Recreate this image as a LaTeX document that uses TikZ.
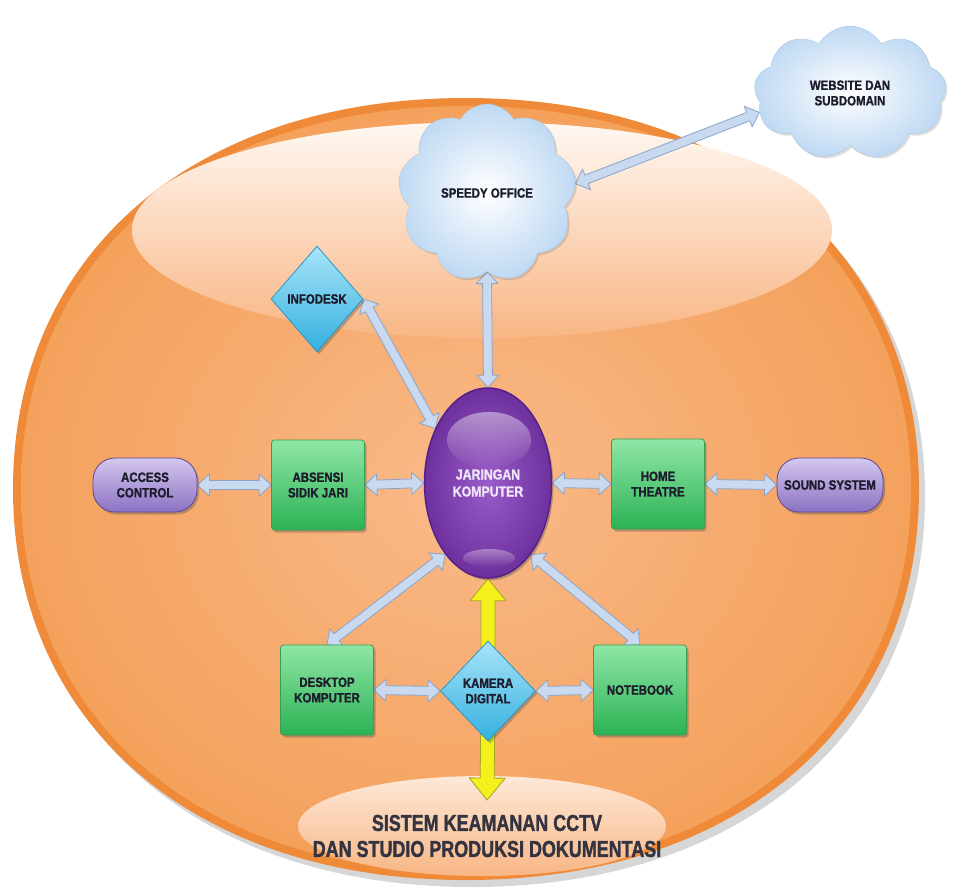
\documentclass[tikz,border=0pt]{standalone}
\usepackage{fontspec}
\setmainfont{Liberation Sans}
\newfontfamily\labfont[FakeStretch=0.85,FakeBold=1.2]{Liberation Sans Bold}
\newfontfamily\capfont[FakeStretch=0.78,FakeBold=1.4]{Liberation Sans Bold}
\usetikzlibrary{shapes.geometric,shapes.symbols,shadows,calc,fadings}
\definecolor{grTop}{HTML}{8FE6A6}
\definecolor{grBot}{HTML}{2CB255}
\definecolor{grLine}{HTML}{3A9E4F}
\definecolor{puTop}{HTML}{D4C8EE}
\definecolor{puBot}{HTML}{8B72C3}
\definecolor{puLine}{HTML}{5E4592}
\definecolor{blTop}{HTML}{A8E4F8}
\definecolor{blBot}{HTML}{34B0E0}
\definecolor{blLine}{HTML}{2A98C6}
\definecolor{clBlue}{HTML}{BFD9F3}
\definecolor{clLine}{HTML}{B0CAE6}
\definecolor{arFill}{HTML}{C9DAF0}
\definecolor{arLine}{HTML}{8AA4C8}
\definecolor{yeFill}{HTML}{F3F01C}
\definecolor{yeLine}{HTML}{A8A227}
\definecolor{juIn}{HTML}{9A5CC8}
\definecolor{juOut}{HTML}{6E309C}
\definecolor{juLine}{HTML}{56208A}
\definecolor{txt}{HTML}{1C1C2C}
\definecolor{jarTxt}{HTML}{EFE7F9}
\definecolor{orIn}{HTML}{F9BA8A}
\definecolor{orOut}{HTML}{F4A15C}
\definecolor{orRim}{HTML}{EF8A38}
\definecolor{hiTop}{HTML}{FFF8F2}
\definecolor{hiBot}{HTML}{F8B684}
\tikzfading[name=fadedown, top color=transparent!0, bottom color=transparent!100]
\pgfdeclarelayer{back}
\pgfdeclarelayer{arrows}
\pgfsetlayers{back,arrows,main}
\newcommand{\dblarrow}[2]{%
  \path (#1) coordinate (dA) (#2) coordinate (dB);
  \path ($(dA)!12pt!(dB)$) coordinate (dA1) ($(dB)!12pt!(dA)$) coordinate (dB1);
  \filldraw[barrow] (dA) -- ($(dA1)!11pt!90:(dB)$) -- ($(dA1)!4.5pt!90:(dB)$)
    -- ($(dB1)!4.5pt!-90:(dA)$) -- ($(dB1)!11pt!-90:(dA)$) -- (dB)
    -- ($(dB1)!11pt!90:(dA)$) -- ($(dB1)!4.5pt!90:(dA)$)
    -- ($(dA1)!4.5pt!-90:(dB)$) -- ($(dA1)!11pt!-90:(dB)$) -- cycle;}
\newcommand{\sglarrow}[2]{%
  \path (#1) coordinate (sA) (#2) coordinate (sB);
  \path ($(sB)!22pt!(sA)$) coordinate (sB1);
  \filldraw[yarrow] ($(sA)!7pt!90:(sB)$) -- ($(sB1)!7pt!-90:(sA)$)
    -- ($(sB1)!18pt!-90:(sA)$) -- (sB) -- ($(sB1)!18pt!90:(sA)$)
    -- ($(sB1)!7pt!90:(sA)$) -- ($(sA)!7pt!-90:(sB)$) -- cycle;}
\begin{document}
\begin{tikzpicture}[x=1pt,y=-1pt,
  lab/.style={font=\labfont\fontsize{13.5}{15.5}\selectfont, text=txt, align=center},
  shad/.style={drop shadow={opacity=0.35,shadow xshift=2pt,shadow yshift=-2.5pt,fill=black!70}},
  gbox/.style={lab, shad, rectangle, rounded corners=3pt, minimum width=93pt, minimum height=90pt,
    top color=grTop, bottom color=grBot, draw=grLine, line width=0.8pt},
  pill/.style={lab, shad, rectangle, rounded corners=22pt, minimum height=54pt,
    top color=puTop, bottom color=puBot, draw=puLine, line width=0.8pt},
  dia/.style={lab, shad, diamond, inner sep=0pt, top color=blTop, bottom color=blBot,
    draw=blLine, line width=0.8pt},
  cloudy/.style={lab, cloud, cloud puffs=9, cloud puff arc=120, aspect=1.1, inner sep=0pt,
    shading=radial, inner color=white, outer color=clBlue, draw=clLine, line width=0.5pt,
    drop shadow={opacity=0.22,shadow xshift=2pt,shadow yshift=-2pt,fill=black!60}},
  barrow/.style={fill=arFill, draw=arLine, line width=0.8pt, line join=round},
  yarrow/.style={fill=yeFill, draw=yeLine, line width=0.8pt, line join=round}
]
\useasboundingbox (0,0) rectangle (960,892);

\begin{pgfonlayer}{back}
  % shadow of the big shape
  \fill[black, opacity=0.16] (19,496) .. controls (19,261) and (200,105) .. (472,105)
    .. controls (744,105) and (925,261) .. (925,496)
    .. controls (925,731) and (744,887) .. (472,887)
    .. controls (200,887) and (19,731) .. (19,496) -- cycle;
  % rim
  \fill[orRim] (13,489) .. controls (13,254) and (194,98) .. (466,98)
    .. controls (738,98) and (919,254) .. (919,489)
    .. controls (919,724) and (738,880) .. (466,880)
    .. controls (194,880) and (13,724) .. (13,489) -- cycle;
  % body
  \shade[inner color=orIn, outer color=orOut] (21,489) .. controls (21,259) and (199,106) .. (466,106)
    .. controls (733,106) and (911,259) .. (911,489)
    .. controls (911,719) and (733,872) .. (466,872)
    .. controls (199,872) and (21,719) .. (21,489) -- cycle;
  % highlights
  \shade[top color=hiTop, bottom color=hiBot] (482,230) ellipse [x radius=350, y radius=108];
  \shade[top color=hiTop!75!orIn, bottom color=hiBot] (482,826) ellipse [x radius=184, y radius=50];
\end{pgfonlayer}

% nodes
\node[cloudy, minimum width=178pt, minimum height=178pt] (speedy) at (487,193) {SPEEDY OFFICE};
\node[cloudy, minimum width=192pt, minimum height=134pt] (web) at (850,93) {WEBSITE DAN\\SUBDOMAIN};
\node[dia, minimum width=92pt, minimum height=106pt] (info) at (317,299) {INFODESK};
\node[ellipse, minimum width=127pt, minimum height=190pt, shading=radial, inner color=juIn,
  outer color=juOut, draw=juLine, line width=1.5pt, shad, lab, text=jarTxt,
  font=\labfont\fontsize{14.5}{17}\selectfont] (jar) at (488,483)
  {JARINGAN\\KOMPUTER};
\fill[white, opacity=0.45, path fading=fadedown] (489,440) ellipse [x radius=42, y radius=28];
\fill[white, opacity=0.35, path fading=fadedown] (489,558) ellipse [x radius=26, y radius=9];
\node[gbox] (abs) at (318,485) {ABSENSI\\SIDIK JARI};
\node[pill, minimum width=104pt] (acc) at (145,485) {ACCESS\\CONTROL};
\node[gbox] (home) at (658,484) {HOME\\THEATRE};
\node[pill, minimum width=106pt] (sound) at (830,485) {SOUND SYSTEM};
\node[gbox] (desk) at (327,690) {DESKTOP\\KOMPUTER};
\node[dia, minimum width=95pt, minimum height=100pt] (kam) at (488,691) {KAMERA\\DIGITAL};
\node[gbox] (note) at (640,690) {NOTEBOOK};
\coordinate (cctv) at (487,800);
\node[font=\capfont\fontsize{23}{26}\selectfont, text=txt!90, align=center] (cap)
  at (487,836) {SISTEM KEAMANAN CCTV\\DAN STUDIO PRODUKSI DOKUMENTASI};

% connectors
\begin{pgfonlayer}{arrows}
  \dblarrow{speedy.south}{jar.north}
  \dblarrow{speedy.6}{web.192}
  \dblarrow{info.east}{jar.134}
  \dblarrow{acc.east}{abs.west}
  \dblarrow{abs.east}{jar.west}
  \dblarrow{jar.east}{home.west}
  \dblarrow{home.east}{sound.west}
  \dblarrow{jar.239}{desk.north}
  \dblarrow{jar.301}{note.north}
  \dblarrow{desk.east}{kam.west}
  \dblarrow{kam.east}{note.west}
  \sglarrow{kam.center}{jar.south}
  \sglarrow{kam.center}{cctv}
\end{pgfonlayer}
\end{tikzpicture}
\end{document}
